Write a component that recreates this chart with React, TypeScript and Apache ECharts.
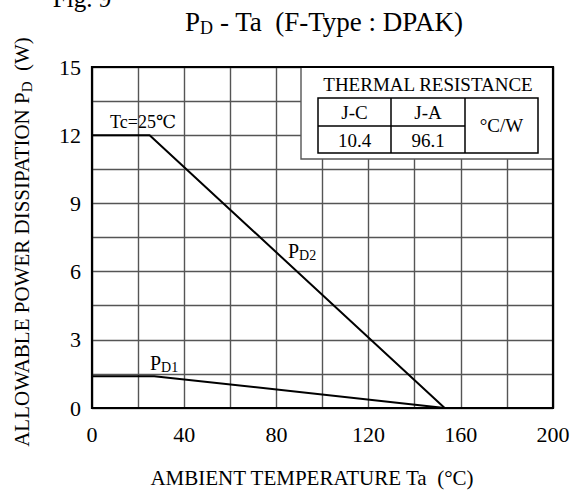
import React, { useEffect, useRef } from "react";
import * as echarts from "echarts";

const xMin = 0;
const xMax = 200;
const xStep = 20;
const xLabelStep = 40;
const yMin = 0;
const yMax = 15;
const yStep = 1.5;
const yLabelStep = 3;

const pd2Temps = [0, 25, 153];
const pd2Watts = [12, 12, 0];
const pd1Temps = [0, 27, 153];
const pd1Watts = [1.4, 1.4, 0];

const resistanceTitle = "THERMAL RESISTANCE";
const resistanceHeaders = ["J-C", "J-A"];
const resistanceValues = ["10.4", "96.1"];
const resistanceUnit = "°C/W";

const FONT = "'Liberation Serif', 'Times New Roman', 'DejaVu Serif', serif";

export default function App() {
  const ref = useRef<HTMLDivElement>(null);
  useEffect(() => {
    if (!ref.current) return;
    const chart = echarts.init(ref.current, undefined, { renderer: "svg" });
    const gl = 92, gt = 67, gw = 461, gh = 341;
    const sub = (size: number, pad: number) => ({ fontSize: size, fontFamily: FONT, color: "#000", padding: [pad, 0, 0, 0] });
    const txt = (x: number, y: number, text: string, size: number, extra: any = {}) => ({
      type: "text",
      x, y, z: 20,
      style: {
        text,
        fontSize: size,
        fontFamily: FONT,
        fill: "#000",
        align: "center",
        verticalAlign: "middle",
        ...extra,
      },
    });
    // table geometry
    const bx = 301, by = gt, bw = gl + gw - 301, bh = 92;
    const tx0 = 318, tx1 = 391, tx2 = 465, tx3 = 538;
    const ty0 = 98, ty1 = 126, ty2 = 153;
    const line = (x1: number, y1: number, x2: number, y2: number, w = 1.5) => ({
      type: "line", z: 15,
      shape: { x1, y1, x2, y2 },
      style: { stroke: "#000", lineWidth: w },
    });
    chart.setOption({
      animation: false,
      grid: { left: gl, top: gt, width: gw, height: gh, show: false },
      xAxis: {
        type: "value",
        min: xMin, max: xMax, interval: xStep,
        axisLine: { show: false },
        axisTick: { show: false },
        axisLabel: {
          margin: 15,
          fontSize: 22,
          fontFamily: FONT,
          color: "#000",
          formatter: (v: number) => (v % xLabelStep === 0 ? String(v) : ""),
        },
        splitLine: { show: true, lineStyle: { color: "#555", width: 1.4 } },
      },
      yAxis: {
        type: "value",
        min: yMin, max: yMax, interval: yStep,
        axisLine: { show: false },
        axisTick: { show: false },
        axisLabel: {
          margin: 11,
          fontSize: 22,
          fontFamily: FONT,
          color: "#000",
          formatter: (v: number) => (Math.abs(v / yLabelStep - Math.round(v / yLabelStep)) < 1e-6 ? String(Math.round(v)) : ""),
        },
        splitLine: { show: true, lineStyle: { color: "#555", width: 1.4 } },
      },
      series: [
        {
          type: "line",
          name: "PD2",
          data: pd2Temps.map((t, i) => [t, pd2Watts[i]]),
          showSymbol: false,
          lineStyle: { color: "#000", width: 2 },
          z: 3,
        },
        {
          type: "line",
          name: "PD1",
          data: pd1Temps.map((t, i) => [t, pd1Watts[i]]),
          showSymbol: false,
          lineStyle: { color: "#000", width: 2 },
          z: 3,
        },
      ],
      graphic: [
        // thermal box
        {
          type: "rect", z: 10,
          shape: { x: bx, y: by, width: bw, height: bh },
          style: { fill: "#fff", stroke: "#555", lineWidth: 1.4 },
        },
        {
          type: "rect", z: 15,
          shape: { x: tx0, y: ty0, width: tx3 - tx0, height: ty2 - ty0 },
          style: { fill: "none", stroke: "#000", lineWidth: 1.5 },
        },
        line(tx1, ty0, tx1, ty2),
        line(tx2, ty0, tx2, ty2),
        line(tx0, ty1, tx2, ty1),
        txt((tx0 + tx3) / 2, 84, resistanceTitle, 19),
        txt((tx0 + tx1) / 2, 112, resistanceHeaders[0], 19),
        txt((tx1 + tx2) / 2, 112, resistanceHeaders[1], 19),
        txt((tx0 + tx1) / 2, 140, resistanceValues[0], 19),
        txt((tx1 + tx2) / 2, 140, resistanceValues[1], 19),
        txt((tx2 + tx3) / 2, 125, resistanceUnit, 19),
        // plot border
        {
          type: "rect", z: 30,
          shape: { x: gl, y: gt, width: gw, height: gh },
          style: { fill: "none", stroke: "#000", lineWidth: 2.2 },
        },
        // annotations
        txt(143, 122, "Tc=25℃", 18),
        {
          type: "text", x: 288, y: 251, z: 20,
          style: {
            text: "{m|P}{s|D2}", fontFamily: FONT, fill: "#000", align: "left", verticalAlign: "middle",
            rich: { m: { fontSize: 20, fontFamily: FONT, color: "#000" }, s: sub(14, 8) },
          },
        },
        {
          type: "text", x: 150, y: 363, z: 20,
          style: {
            text: "{m|P}{s|D1}", fontFamily: FONT, fill: "#000", align: "left", verticalAlign: "middle",
            rich: { m: { fontSize: 20, fontFamily: FONT, color: "#000" }, s: sub(14, 8) },
          },
        },
        // title
        {
          type: "text", x: 324, y: 22, z: 20,
          style: {
            text: "{m|P}{s|D}{m| - Ta  (F-Type : DPAK)}", fontFamily: FONT, fill: "#000", align: "center", verticalAlign: "middle",
            rich: { m: { fontSize: 27, fontFamily: FONT, color: "#000" }, s: sub(18, 11) },
          },
        },
        txt(82, -2, "Fig. 9", 25),
        // axis names
        {
          type: "text", x: 22, y: 242, z: 20, rotation: Math.PI / 2,
          style: {
            text: "{m|ALLOWABLE POWER DISSIPATION P}{s|D}{m|  (W)}", fontFamily: FONT, fill: "#000", align: "center", verticalAlign: "middle",
            rich: { m: { fontSize: 21, fontFamily: FONT, color: "#000" }, s: sub(15, 9) },
          },
        },
        txt(312, 478, "AMBIENT TEMPERATURE Ta  (°C)", 21),
      ],
    });
    return () => chart.dispose();
  }, []);
  return <div ref={ref} style={{ position: "absolute", left: 0, top: 0, width: 582, height: 491 }} />;
}
